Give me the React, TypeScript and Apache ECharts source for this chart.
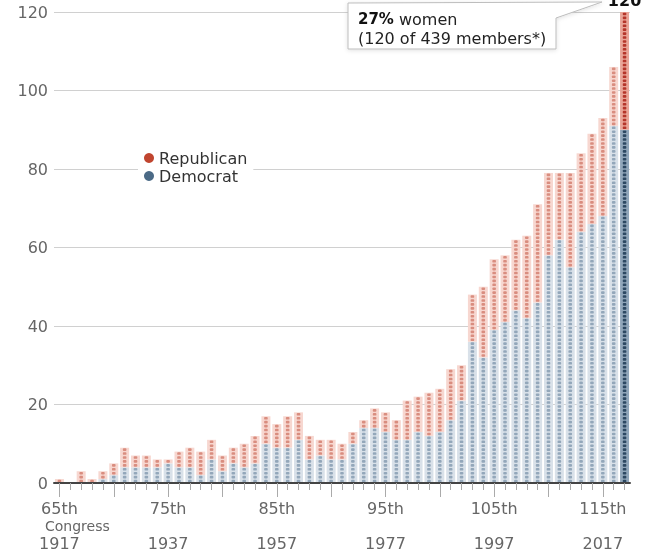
import React, { useEffect, useRef } from 'react';
import * as echarts from 'echarts';

const congress = ['65th','66th','67th','68th','69th','70th','71st','72nd','73rd','74th','75th','76th','77th','78th','79th','80th','81st','82nd','83rd','84th','85th','86th','87th','88th','89th','90th','91st','92nd','93rd','94th','95th','96th','97th','98th','99th','100th','101st','102nd','103rd','104th','105th','106th','107th','108th','109th','110th','111th','112th','113th','114th','115th','116th','117th'];
const years = ['1917','1919','1921','1923','1925','1927','1929','1931','1933','1935','1937','1939','1941','1943','1945','1947','1949','1951','1953','1955','1957','1959','1961','1963','1965','1967','1969','1971','1973','1975','1977','1979','1981','1983','1985','1987','1989','1991','1993','1995','1997','1999','2001','2003','2005','2007','2009','2011','2013','2015','2017','2019','2021'];
const democrat = [0,0,0,0,1,2,4,4,4,4,5,4,4,2,6,3,5,4,5,10,9,9,11,6,7,6,6,10,14,14,13,11,11,13,12,13,16,21,36,32,39,41,44,42,46,58,62,55,64,66,68,91,90];
const republican = [1,0,3,1,2,3,5,3,3,2,1,4,5,6,5,4,4,6,7,7,6,8,7,6,4,5,4,3,2,5,5,5,10,9,11,11,13,9,12,18,18,17,18,21,25,21,17,24,20,23,25,15,30];
const yTicks = [0, 20, 40, 60, 80, 100, 120];
const annotationPct = '27%';
const annotationMembers = '(120 of 439 members*)';

const FONT = '"DejaVu Sans", Verdana, sans-serif';

export default function App() {
  const ref = useRef<HTMLDivElement>(null);
  useEffect(() => {
    if (!ref.current) return;
    const chart = echarts.init(ref.current, null, { renderer: 'svg' });
    const last = congress.length - 1;
    const total = democrat[last] + republican[last];
    const dFill = '#d9e1e9', rFill = '#f7d7d0';
    const dFillLast = '#90a6ba', rFillLast = '#e9a497';
    const dDot = '#93a7ba', rDot = '#d98d7f';
    const dDotLast = '#2c4862', rDotLast = '#b5352a';

    const dotData = congress.map((_, i) => [i, democrat[i], republican[i]]);

    chart.setOption({
      animation: false,
      textStyle: { fontFamily: FONT },
      grid: { left: 54, right: 17, top: 12, bottom: 70, containLabel: false },
      legend: {
        orient: 'vertical',
        left: 138,
        top: 148,
        icon: 'circle',
        itemWidth: 10,
        itemHeight: 10,
        itemGap: 2,
        padding: [2, 6, 2, 6],
        backgroundColor: '#fff',
        selectedMode: false,
        textStyle: { fontSize: 16, color: '#333', fontFamily: FONT },
        data: [
          { name: 'Republican', itemStyle: { color: '#c0452f' } },
          { name: 'Democrat', itemStyle: { color: '#4b6a86' } },
        ],
      },
      xAxis: [
        {
          type: 'category',
          data: congress,
          position: 'bottom',
          axisLine: { show: true, lineStyle: { color: '#444', width: 2 } },
          axisTick: { show: true, alignWithLabel: true, interval: 0, length: 7, lineStyle: { color: '#aaa' } },
          axisLabel: {
            interval: 9,
            margin: 18,
            color: '#666',
            formatter: (v: string, idx: number) => `{c|${v}}\n{y|${years[idx]}}`,
            rich: {
              c: { fontSize: 16, lineHeight: 14, color: '#666', fontFamily: FONT },
              y: { fontSize: 16, lineHeight: 57, color: '#666', fontFamily: FONT },
            },
          },
          splitLine: { show: false },
          z: 10,
        },
        {
          type: 'category',
          data: congress,
          position: 'bottom',
          axisLine: { show: false },
          axisTick: { show: true, alignWithLabel: true, interval: 4, length: 14, lineStyle: { color: '#aaa' } },
          axisLabel: { show: false },
          splitLine: { show: false },
        },
      ],
      yAxis: {
        type: 'value',
        min: yTicks[0],
        max: yTicks[yTicks.length - 1],
        interval: 20,
        axisLine: { show: false },
        axisTick: { show: false },
        axisLabel: { fontSize: 16, color: '#666', margin: 6, fontFamily: FONT },
        splitLine: { lineStyle: { color: '#d0d0d0', width: 1 } },
      },
      series: [
        {
          name: 'Democrat',
          type: 'bar',
          stack: 'women',
          barWidth: 9,
          itemStyle: { color: dFill },
          data: democrat.map((v, i) => (i === last ? { value: v, itemStyle: { color: dFillLast } } : v)),
          silent: true,
        },
        {
          name: 'Republican',
          type: 'bar',
          stack: 'women',
          barWidth: 9,
          itemStyle: { color: rFill },
          data: republican.map((v, i) =>
            i === last
              ? {
                  value: v,
                  itemStyle: { color: rFillLast },
                  label: {
                    show: true,
                    position: 'top',
                    distance: 4,
                    formatter: String(total),
                    fontSize: 16,
                    fontWeight: 'bold',
                    color: '#111',
                    fontFamily: FONT,
                  },
                }
              : v
          ),
          silent: true,
        },
        {
          type: 'custom',
          silent: true,
          z: 5,
          dimensions: ['x', 'd', 'r'],
          encode: { x: 0, y: 1 },
          data: dotData,
          renderItem: (params: any, api: any) => {
            const i = api.value(0);
            const d = api.value(1);
            const r = api.value(2);
            const isLast = i === last;
            const children: any[] = [];
            for (let k = 0; k < d + r; k++) {
              const p = api.coord([i, k + 0.5]);
              children.push({
                type: 'rect',
                shape: { x: p[0] - 1.8, y: p[1] - 1.3, width: 3.6, height: 2.6, r: 0.9 },
                style: { fill: k < d ? (isLast ? dDotLast : dDot) : (isLast ? rDotLast : rDot) },
              });
            }
            return { type: 'group', children };
          },
        },
      ],
      graphic: [
        {
          type: 'polygon',
          z: 50,
          shape: { points: [[348, 3], [602, 2], [556, 18], [556, 49], [348, 49]] },
          style: {
            fill: '#fff',
            stroke: '#bdbdbd',
            lineWidth: 1,
            shadowBlur: 4,
            shadowColor: 'rgba(0,0,0,0.12)',
            shadowOffsetY: 1,
          },
        },
        {
          type: 'text',
          z: 51,
          x: 358,
          y: 19,
          style: {
            text: `{b|${annotationPct}} women`,
            fontSize: 16,
            fontFamily: FONT,
            fill: '#222',
            verticalAlign: 'middle',
            rich: { b: { fontWeight: 'bold', fontSize: 15, fontFamily: FONT, fill: '#111' } },
          },
        },
        {
          type: 'text',
          z: 51,
          x: 358,
          y: 38,
          style: { text: annotationMembers, fontSize: 16, fontFamily: FONT, fill: '#222', verticalAlign: 'middle' },
        },
        {
          type: 'text',
          x: 45,
          y: 526,
          style: { text: 'Congress', fontSize: 14, fontFamily: FONT, fill: '#666', verticalAlign: 'middle' },
        },
      ],
    });
    return () => chart.dispose();
  }, []);
  return <div ref={ref} style={{ position: 'fixed', left: 0, top: 0, width: 647, height: 553 }} />;
}
